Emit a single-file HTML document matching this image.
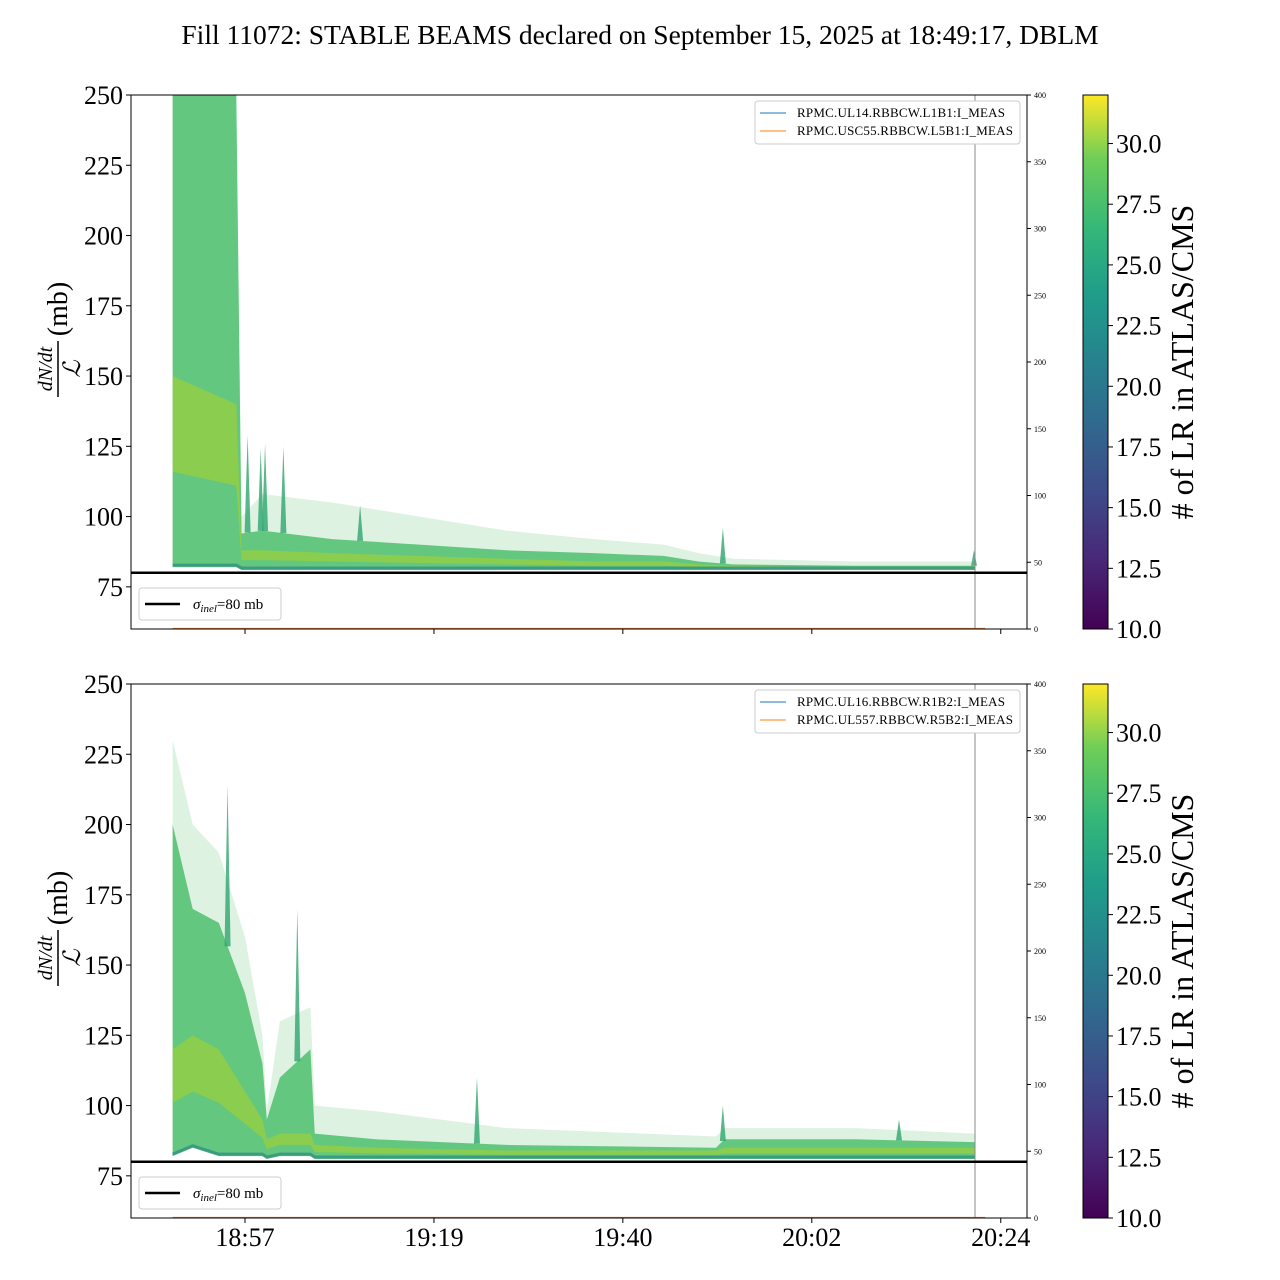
<!DOCTYPE html>
<html><head><meta charset="utf-8"><style>
body{margin:0;background:#fff;}
svg{display:block;font-family:"Liberation Serif",serif;}
</style></head><body>
<svg id="chart" width="1280" height="1280" viewBox="0 0 1280 1280" xmlns="http://www.w3.org/2000/svg">
<defs>
<linearGradient id="vir" x1="0" y1="1" x2="0" y2="0">
<stop offset="0" stop-color="#440154"/><stop offset="0.13" stop-color="#482878"/><stop offset="0.25" stop-color="#3e4989"/><stop offset="0.38" stop-color="#31688e"/><stop offset="0.5" stop-color="#26828e"/><stop offset="0.63" stop-color="#1f9e89"/><stop offset="0.75" stop-color="#35b779"/><stop offset="0.88" stop-color="#6ece58"/><stop offset="1" stop-color="#fde725"/>
</linearGradient>
</defs>
<text x="640" y="44" text-anchor="middle" font-size="27.5">Fill 11072: STABLE BEAMS declared on September 15, 2025 at 18:49:17, DBLM</text>
<g id="panels"></g>
</svg>
<script>
// x axis: minutes relative to 18:57
const xTickLabels = ["18:57","19:19","19:40","20:02","20:24"];
const xTickMins = [0, 21.67, 43.33, 65, 86.67];
const yTicks = [75,100,125,150,175,200,225,250];
const rTicks = [0,50,100,150,200,250,300,350,400];
const cbTicks = [10.0,12.5,15.0,17.5,20.0,22.5,25.0,27.5,30.0];
// top panel envelopes
const topT     = [-8.3,-1.0,-0.4,2,10,20,30,40,48,52,56,70,83.7];
const topUpper = [250,250,100,108,105,100,95,92,90,87,85,84,84];
const topHi    = [250,250,94,95,92,90,88,87,86,84,83,82.5,82.5];
const topCore  = [150,140,88,88,87,86,85,84,84,83,82.5,82,82];
const topLower = [82,82,81,81,81,81,81,81,81,81,81,81,81];
const topSpikeT = [0.3,1.8,2.3,4.4,13.2,54.8,83.6];
const topSpikeV = [129,124,126,125,104,96,88];
// bottom panel envelopes
const botT     = [-8.3,-6,-3,0,2,2.5,4,7.5,8,15,30,54,55,70,83.7];
const botUpper = [230,200,190,160,125,98,130,135,100,98,92,89,92,92,90];
const botHi    = [200,170,165,140,115,95,110,120,90,88,86,85,88,88,87];
const botCore  = [120,125,120,105,95,88,90,90,86,85,84,84,85,85,85];
const botLower = [82,85,82,82,82,81,82,82,81,81,81,81,81,81,81];
const botSpikeT = [-2,6,26.6,54.8,75];
const botSpikeV = [214,170,110,100,95];

const NS="http://www.w3.org/2000/svg";
const X0=131,X1=1027,XT0=245,PXM=8.72;
const xs=t=>XT0+t*PXM;
function mk(tag,attrs,parent,txt){const e=document.createElementNS(NS,tag);for(const k in attrs)e.setAttribute(k,attrs[k]);if(txt!==undefined)e.textContent=txt;parent.appendChild(e);return e;}
const root=document.getElementById('panels');

function panel(top,name,T,U,H,C,L,ST,SV,legend,showX){
  const bot=top+534;
  const ys=v=>top+(250-v)*534/190;
  const g=mk('g',{},root);
  
  
  const poly=(A,B)=>{let p=A.map((v,i)=>xs(T[i])+','+ys(v));for(let i=B.length-1;i>=0;i--)p.push(xs(T[i])+','+ys(B[i]));return p.join(' ');};
  const clip='clip'+top;
  const cp=mk('clipPath',{id:clip},g);mk('rect',{x:X0,y:top,width:X1-X0,height:534},cp);
  const dg=mk('g',{'clip-path':'url(#'+clip+')'},g);
  const outer=mk('polygon',{points:poly(U,L),fill:'#9fd9a8','fill-opacity':0.35},dg);
  
  
  const dense=mk('polygon',{points:poly(H,L),fill:'#4fbf6d','fill-opacity':0.85},dg);
  
  
  const core=mk('polygon',{points:poly(C,L.map((v,i)=>(v+C[i])/2)),fill:'#9ad03a','fill-opacity':0.7},dg);
  
  
  const low=mk('polyline',{points:L.map((v,i)=>xs(T[i])+','+(ys(v)-2)).join(' '),fill:'none',stroke:'#2a8a82','stroke-width':3,'stroke-opacity':0.7},dg);
  
  
  ST.forEach((t,i)=>{
    let base=H[0];for(let k=0;k<T.length-1;k++){if(t>=T[k]&&t<=T[k+1]){const f=(t-T[k])/(T[k+1]-T[k]);base=H[k]+f*(H[k+1]-H[k]);}}
    const s=mk('polygon',{points:(xs(t)-3)+','+ys(base)+' '+xs(t)+','+ys(SV[i])+' '+(xs(t)+3)+','+ys(base),fill:'#2fa56e','fill-opacity':0.8},dg);
    
    
  });
  mk('line',{x1:xs(-8.3),x2:985,y1:bot-0.5,y2:bot-0.5,stroke:'#e0803a','stroke-width':1.2},g);
  mk('line',{x1:975,x2:975,y1:top,y2:bot,stroke:'#888','stroke-width':1},g);
  const sig=mk('line',{x1:X0,x2:X1,y1:ys(80),y2:ys(80),stroke:'#000','stroke-width':2.5},g);
  
  
  mk('rect',{x:X0,y:top,width:X1-X0,height:534,fill:'none',stroke:'#000','stroke-width':1},g);
  yTicks.forEach(v=>{mk('line',{x1:X0-5,x2:X0,y1:ys(v),y2:ys(v),stroke:'#000'},g);
    const t=mk('text',{x:X0-8,y:ys(v)+9,'text-anchor':'end','font-size':26},g,v);
    });
  rTicks.forEach(v=>{const y=bot-v*534/400;mk('line',{x1:X1,x2:X1+4,y1:y,y2:y,stroke:'#000'},g);
    const t=mk('text',{x:X1+7,y:y+3,'font-size':8},g,v);
    });
  xTickMins.forEach((m,i)=>{mk('line',{x1:xs(m),x2:xs(m),y1:bot,y2:bot+5,stroke:'#000'},g);
    if(showX){const t=mk('text',{x:xs(m),y:bot+28,'text-anchor':'middle','font-size':26},g,xTickLabels[i]);
    }});
  // y label
  const yl=mk('g',{transform:'translate(62,'+(top+264)+') rotate(-90)'},g);
  
  mk('text',{x:-10,y:-10,'text-anchor':'middle','font-size':20,'font-style':'italic'},yl,'dN/dt');
  mk('line',{x1:-38,x2:18,y1:-4,y2:-4,stroke:'#000','stroke-width':1.5},yl);
  mk('text',{x:-10,y:18,'text-anchor':'middle','font-size':24,'font-style':'italic'},yl,'ℒ');
  mk('text',{x:50,y:5,'text-anchor':'middle','font-size':28},yl,'(mb)');
  // legends
  const lg=mk('g',{},g);
  mk('rect',{x:139,y:588,width:142,height:32,rx:3,fill:'#fff',stroke:'#ccc'},lg);
  mk('line',{x1:145,x2:180,y1:604,y2:604,stroke:'#000','stroke-width':2.5},lg);
  const st=mk('text',{x:193,y:609,'font-size':15},lg);
  mk('tspan',{'font-style':'italic'},st,'σ');mk('tspan',{'font-style':'italic','font-size':11,dy:3},st,'inel');mk('tspan',{dy:-3},st,'=80 mb');
  lg.setAttribute('transform','translate(0,'+(top-95)+')');
  const lr=mk('g',{},g);
  mk('rect',{x:755,y:top+6,width:265,height:43,rx:3,fill:'#fff',stroke:'#ccc'},lr);
  mk('line',{x1:760,x2:786,y1:top+18,y2:top+18,stroke:'#1f77b4'},lr);
  mk('line',{x1:760,x2:786,y1:top+36,y2:top+36,stroke:'#ff7f0e'},lr);
  mk('text',{x:797,y:top+22,'font-size':13,textLength:208},lr,legend[0]);
  mk('text',{x:797,y:top+40,'font-size':13,textLength:216},lr,legend[1]);
  // colorbar
  const cb=mk('g',{},g);
  mk('rect',{x:1083,y:top,width:25,height:534,fill:'url(#vir)',stroke:'#000'},cb);
  cbTicks.forEach(v=>{const y=bot-(v-10)*534/22;mk('line',{x1:1108,x2:1113,y1:y,y2:y,stroke:'#000'},cb);
    const t=mk('text',{x:1116,y:y+9,'font-size':26},cb,v.toFixed(1));
    });
  const ct=mk('text',{x:0,y:0,'text-anchor':'middle','font-size':32,transform:'translate(1193,'+(top+267)+') rotate(-90)'},cb,'# of LR in ATLAS/CMS');
  
}
panel(95,'top-panel',topT,topUpper,topHi,topCore,topLower,topSpikeT,topSpikeV,['RPMC.UL14.RBBCW.L1B1:I_MEAS','RPMC.USC55.RBBCW.L5B1:I_MEAS'],false);
panel(684,'bottom-panel',botT,botUpper,botHi,botCore,botLower,botSpikeT,botSpikeV,['RPMC.UL16.RBBCW.R1B2:I_MEAS','RPMC.UL557.RBBCW.R5B2:I_MEAS'],true);
</script>
</body></html>
